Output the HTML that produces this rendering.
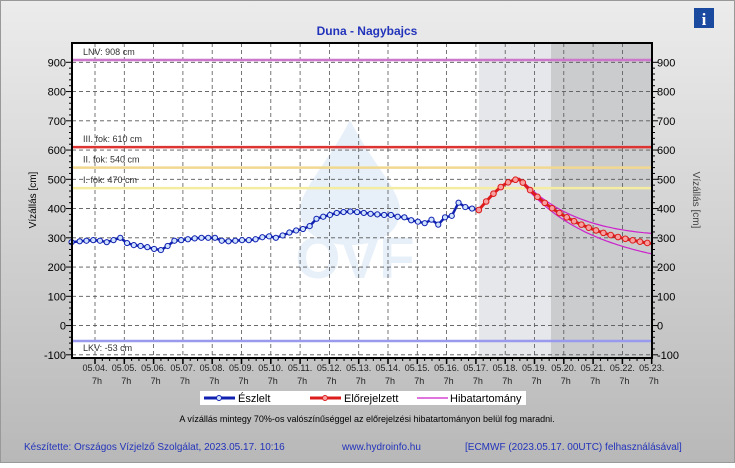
<!DOCTYPE html>
<html><head><meta charset="utf-8"><style>
body{margin:0;width:735px;height:463px;overflow:hidden;font-family:"Liberation Sans",Arial,sans-serif}
</style></head><body>
<svg id="s" width="735" height="463" xmlns="http://www.w3.org/2000/svg" font-family="Liberation Sans, Arial, sans-serif">
<defs><linearGradient id="bg" x1="0" y1="0" x2="0" y2="1"><stop offset="0" stop-color="#ececec"/><stop offset="1" stop-color="#b8b8b8"/></linearGradient></defs>
<rect x="0" y="0" width="735" height="463" fill="url(#bg)"/>
<rect x="0.5" y="0.5" width="734" height="462" fill="none" stroke="#999"/>
<text x="367" y="35" text-anchor="middle" font-size="12" font-weight="bold" fill="#2233bb">Duna - Nagybajcs</text>
<rect x="694" y="8" width="20" height="20" fill="#1a4aa0"/>
<text x="704" y="25" text-anchor="middle" font-size="17" font-weight="bold" fill="#fff" font-family="Liberation Serif, serif">i</text>
<rect x="72" y="43" width="580" height="315" fill="#fff"/>
<rect x="479" y="43" width="72" height="315" fill="#e6e7ea"/>
<rect x="551" y="43" width="101" height="315" fill="#cbccce"/>
<g id="wm" opacity="0.18">
<path d="M350 120 C330 160 300 190 300 210 C300 235 325 245 350 245 C375 245 400 235 400 210 C400 190 370 160 350 120Z" fill="#7fb0e0"/>
<text x="355" y="278" text-anchor="middle" font-size="58" font-weight="bold" fill="#7fb0e0">OVF</text>
</g>
<g id="grid"></g>
<g id="lines"></g>
<g id="data"></g>
<rect x="72" y="43" width="580" height="315" fill="none" stroke="#000" stroke-width="2"/>
<g id="ax" font-size="11" fill="#000"></g>
<text transform="translate(36,200) rotate(-90)" text-anchor="middle" font-size="10">Vízállás [cm]</text>
<text transform="translate(693,200) rotate(90)" text-anchor="middle" font-size="10" fill="#444">Vízállás [cm]</text>
<rect x="200" y="391" width="326" height="14" fill="#fff"/>
<line x1="204" y1="398" x2="235" y2="398" stroke="#1020b0" stroke-width="3"/><circle cx="219" cy="398" r="2.5" fill="#cfe3ff" stroke="#1020b0"/>
<text x="238" y="402" font-size="11">Észlelt</text>
<line x1="310" y1="398" x2="341" y2="398" stroke="#dd1c1c" stroke-width="3"/><circle cx="325" cy="398" r="2.5" fill="#f7a0a0" stroke="#dd1c1c"/>
<text x="344" y="402" font-size="11">Előrejelzett</text>
<line x1="417" y1="398" x2="448" y2="398" stroke="#cc22cc" stroke-width="1.2"/>
<text x="450" y="402" font-size="11">Hibatartomány</text>
<text x="367" y="422" text-anchor="middle" font-size="9">A vízállás mintegy 70%-os valószínűséggel az előrejelzési hibatartományon belül fog maradni.</text>
<text x="24" y="450" font-size="10" fill="#2233bb">Készítette: Országos Vízjelző Szolgálat, 2023.05.17. 10:16</text>
<text x="342" y="450" font-size="10" fill="#2233bb">www.hydroinfo.hu</text>
<text x="465" y="450" font-size="10" fill="#2233bb">[ECMWF (2023.05.17. 00UTC) felhasználásával]</text>
</svg>
<script>
const NS="http://www.w3.org/2000/svg";
function el(p,t,a,txt){const e=document.createElementNS(NS,t);for(const k in a)e.setAttribute(k,a[k]);if(txt!==undefined)e.textContent=txt;document.getElementById(p).appendChild(e);return e;}
const Y=v=>62.3+(900-v)*0.2925;
const X=d=>95+d*29.3;
for(let d=0;d<=19;d++){el("grid","line",{x1:X(d),y1:43,x2:X(d),y2:358,stroke:"#555","stroke-dasharray":"4,3","stroke-width":0.8});}
for(let v=-100;v<=900;v+=100){el("grid","line",{x1:72,y1:Y(v),x2:652,y2:Y(v),stroke:"#555","stroke-dasharray":"4,3","stroke-width":0.8});
el("ax","text",{x:66,y:Y(v)+4,"text-anchor":"end"},v);el("ax","text",{x:657,y:Y(v)+4},v);
el("ax","line",{x1:66,y1:Y(v),x2:72,y2:Y(v),stroke:"#000"});el("ax","line",{x1:652,y1:Y(v),x2:658,y2:Y(v),stroke:"#000"});
for(let m=20;m<100&&v<900;m+=20){el("ax","line",{x1:69,y1:Y(v+m),x2:72,y2:Y(v+m),stroke:"#000"});el("ax","line",{x1:652,y1:Y(v+m),x2:655,y2:Y(v+m),stroke:"#000"});}}
for(let d=0;d<=19;d++){const dd=String(4+d).padStart(2,"0");
el("ax","text",{x:X(d),y:371,"text-anchor":"middle","font-size":"9","fill":"#222"},"05."+dd+".");
el("ax","text",{x:X(d)+2,y:384,"text-anchor":"middle","font-size":"9","fill":"#222"},"7h");
el("ax","line",{x1:X(d),y1:358,x2:X(d),y2:364,stroke:"#000","stroke-width":1.5});
for(let q=1;q<4;q++)if(d<19)el("ax","line",{x1:X(d+q/4),y1:358,x2:X(d+q/4),y2:361,stroke:"#000"});}
const thr=[[908,"#cc77cc","LNV: 908 cm"],[610,"#dd3333","III. fok: 610 cm"],[540,"#f0d890","II. fok: 540 cm"],[470,"#f4eca0","I. fok: 470 cm"],[-53,"#9999ee","LKV: -53 cm"]];
thr.forEach(t=>{el("lines","line",{x1:72,y1:Y(t[0]),x2:652,y2:Y(t[0]),stroke:t[1],"stroke-width":2.5});
el("lines","text",{x:83,y:Y(t[0])-(t[0]<0?-10:5),"font-size":"9","fill":"#333"},t[2]);});
const obs0=[[-0.8,285],[-0.5,288],[-0.25,290],[0,292],[0.25,290],[0.5,285],[0.75,292],[1,300],[1.25,282],[1.5,275],[1.75,272],[2,268],[2.25,262],[2.5,258],[2.75,272],[3,290],[3.25,292],[3.5,295],[3.75,298],[4,300],[4.25,300],[4.5,300],[4.75,290],[5,288],[5.25,290],[5.5,292],[5.75,292],[6,295],[6.25,302],[6.5,305],[6.75,300],[7,308],[7.25,318],[7.5,325],[7.75,330],[8,340],[8.25,365],[8.5,372],[8.75,378],[9,385],[9.25,388],[9.5,390],[9.75,388],[10,385],[10.25,382],[10.5,380],[10.75,378],[11,378],[11.25,372],[11.5,370],[11.75,360],[12,355],[12.25,350],[12.5,362],[12.75,345],[13,370],[13.25,375],[13.5,420],[13.75,405],[14,400],[14.25,395]];
const obs=obs0.map(o=>[-0.8+(o[0]+0.8)*(13.9/15.05),o[1]]);
let p="";obs.forEach((o,i)=>p+=(i?"L":"M")+X(o[0]).toFixed(1)+" "+Y(o[1]).toFixed(1));
el("data","path",{d:p,fill:"none",stroke:"#1020b0","stroke-width":2.5});
obs.forEach(o=>el("data","circle",{cx:X(o[0]),cy:Y(o[1]),r:2.6,fill:"#cfe3ff",stroke:"#1020b0","stroke-width":1}));
const fc=[];for(let t=13.1;t<=19.001;t+=0.125){let v;
if(t<14.5){v=395+105*Math.sin((t-13.1)/1.4*Math.PI/2);}else{const u=t-14.5;v=500-(500-280)*(1-Math.exp(-u*0.45))/(1-Math.exp(-4.5*0.45));}
fc.push([t,v]);}
let fp="",up="",lo="";fc.forEach((o,i)=>{const w=Math.min(1,Math.max(0,(o[0]-14.2)/4.8))*33;fp+=(i?"L":"M")+X(o[0]).toFixed(1)+" "+Y(o[1]).toFixed(1);
up+=(i?"L":"M")+X(o[0]).toFixed(1)+" "+Y(o[1]+w+2).toFixed(1);lo+=(i?"L":"M")+X(o[0]).toFixed(1)+" "+Y(o[1]-w-2).toFixed(1);});
el("data","path",{d:up,fill:"none",stroke:"#cc22cc","stroke-width":1.2});
el("data","path",{d:lo,fill:"none",stroke:"#cc22cc","stroke-width":1.2});
el("data","path",{d:fp,fill:"none",stroke:"#dd1c1c","stroke-width":3});
fc.forEach((o,i)=>{if(i%2==0)el("data","circle",{cx:X(o[0]),cy:Y(o[1]),r:2.8,fill:"#f7a0a0",stroke:"#dd1c1c","stroke-width":1});});
</script>
</body></html>
